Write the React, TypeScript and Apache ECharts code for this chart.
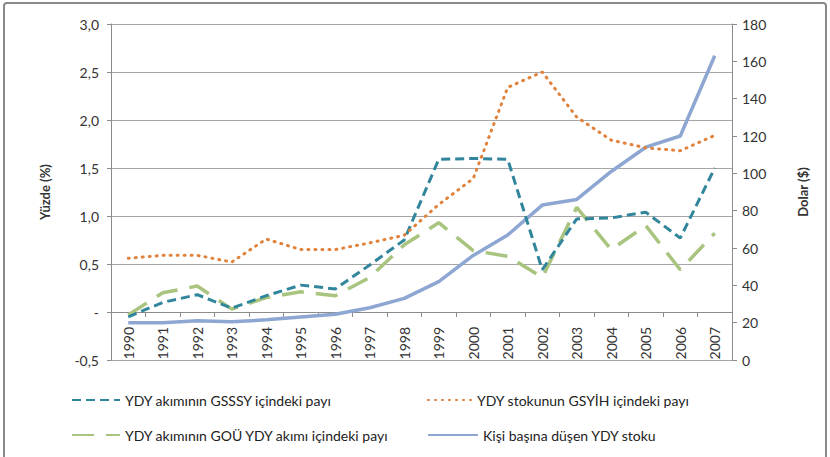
import React, { useEffect, useRef } from "react";
import * as echarts from "echarts";

const years = ["1990","1991","1992","1993","1994","1995","1996","1997","1998","1999","2000","2001","2002","2003","2004","2005","2006","2007"];
const gssyShare = [-0.05, 0.10, 0.18, 0.04, 0.17, 0.28, 0.24, 0.49, 0.75, 1.59, 1.60, 1.59, 0.44, 0.97, 0.98, 1.04, 0.77, 1.50];
const gsyihStockShare = [0.56, 0.59, 0.59, 0.52, 0.76, 0.65, 0.65, 0.72, 0.80, 1.12, 1.39, 2.34, 2.50, 2.03, 1.79, 1.71, 1.68, 1.84];
const gouShare = [-0.03, 0.20, 0.27, 0.03, 0.15, 0.21, 0.17, 0.36, 0.70, 0.93, 0.64, 0.58, 0.36, 1.09, 0.65, 0.90, 0.44, 0.82];
const perCapitaStock = [20, 20, 21, 20.5, 21.5, 23, 24.5, 28, 33, 42, 56, 67, 83, 86, 101, 114, 120, 163];
const seriesNames = [
  "YDY akımının GSSSY içindeki payı",
  "YDY stokunun GSYİH içindeki payı",
  "YDY akımının GOÜ YDY akımı içindeki payı",
  "Kişi başına düşen YDY stoku",
];

const FONT = "Lato, 'Open Sans', sans-serif";

export default function App() {
  const ref = useRef<HTMLDivElement>(null);
  useEffect(() => {
    if (!ref.current) return;
    const chart = echarts.init(ref.current, undefined, { renderer: "svg" });
    const legendText = { fontSize: 14, color: "#222", fontFamily: FONT };
    const legendCommon = { itemHeight: 14, itemGap: 4, padding: 0, textStyle: legendText, itemStyle: { opacity: 0 } };
    const plotHeight = 457 - 24 - 97;
    const zeroOffset = -plotHeight * (0.5 / 3.5);
    chart.setOption({
      animation: false,
      backgroundColor: "#fff",
      textStyle: { fontFamily: FONT },
      grid: { left: 111, right: 98, top: 24, bottom: 97 },
      graphic: [
        {
          type: "rect",
          shape: { x: 4, y: 3, width: 822, height: 470, r: 3 },
          style: { fill: "none", stroke: "#8a8a8a", lineWidth: 2 },
          silent: true,
        },
      ],
      legend: [
        { ...legendCommon, data: [seriesNames[0]], left: 71, top: 393, itemWidth: 48 },
        { ...legendCommon, data: [seriesNames[1]], left: 427, top: 393, itemWidth: 44 },
        { ...legendCommon, data: [seriesNames[2]], left: 71, top: 428, itemWidth: 48 },
        { ...legendCommon, data: [seriesNames[3]], left: 427, top: 428, itemWidth: 50 },
      ],
      xAxis: {
        type: "category",
        data: years,
        boundaryGap: true,
        position: "bottom",
        offset: zeroOffset,
        axisLine: { onZero: false, lineStyle: { color: "#8c8c8c", width: 1 } },
        axisTick: { show: true, length: 5, lineStyle: { color: "#8c8c8c" } },
        axisLabel: { rotate: 90, fontSize: 14, color: "#333", margin: 15, fontFamily: FONT },
      },
      yAxis: [
        {
          type: "value",
          min: -0.5,
          max: 3.0,
          interval: 0.5,
          name: "Yüzde (%)",
          nameLocation: "middle",
          nameRotate: 90,
          nameGap: 60,
          nameTextStyle: { fontSize: 13, fontWeight: "bold", color: "#333", fontFamily: FONT },
          axisLine: { show: true, onZero: false, lineStyle: { color: "#8c8c8c" } },
          axisTick: { show: true, length: 4, lineStyle: { color: "#8c8c8c" } },
          axisLabel: {
            fontSize: 14,
            color: "#333",
            margin: 12,
            fontFamily: FONT,
            formatter: (v: number) => (Math.abs(v) < 1e-9 ? "-" : v.toFixed(1).replace(".", ",")),
          },
          splitLine: { show: true, lineStyle: { color: "#a6a6a6", width: 1 } },
        },
        {
          type: "value",
          min: 0,
          max: 180,
          interval: 20,
          position: "right",
          name: "Dolar ($)",
          nameLocation: "middle",
          nameRotate: 90,
          nameGap: 64,
          nameTextStyle: { fontSize: 13, fontWeight: "bold", color: "#333", fontFamily: FONT },
          axisLine: { show: true, onZero: false, lineStyle: { color: "#8c8c8c" } },
          axisTick: { show: true, length: 5, lineStyle: { color: "#8c8c8c" } },
          axisLabel: { fontSize: 14, color: "#333", margin: 10, fontFamily: FONT },
          splitLine: { show: false },
        },
      ],
      series: [
        {
          name: seriesNames[0],
          type: "line",
          yAxisIndex: 0,
          data: gssyShare,
          symbol: "none",
          color: "#31869c",
          lineStyle: { color: "#31869c", width: 3, type: [9, 5] },
          z: 3,
        },
        {
          name: seriesNames[1],
          type: "line",
          yAxisIndex: 0,
          data: gsyihStockShare,
          symbol: "none",
          color: "#e0823c",
          lineStyle: { color: "#e0823c", width: 3, type: [1, 6], cap: "round" },
          z: 3,
        },
        {
          name: seriesNames[2],
          type: "line",
          yAxisIndex: 0,
          data: gouShare,
          symbol: "none",
          color: "#a9c47f",
          lineStyle: { color: "#a9c47f", width: 3.5, type: [22, 12] },
          z: 2,
        },
        {
          name: seriesNames[3],
          type: "line",
          yAxisIndex: 1,
          data: perCapitaStock,
          symbol: "none",
          color: "#8ea7d2",
          lineStyle: { color: "#8ea7d2", width: 3.5 },
          z: 2,
        },
      ],
    });
    return () => chart.dispose();
  }, []);
  return <div ref={ref} style={{ position: "absolute", left: 0, top: 0, width: 830, height: 457 }} />;
}
